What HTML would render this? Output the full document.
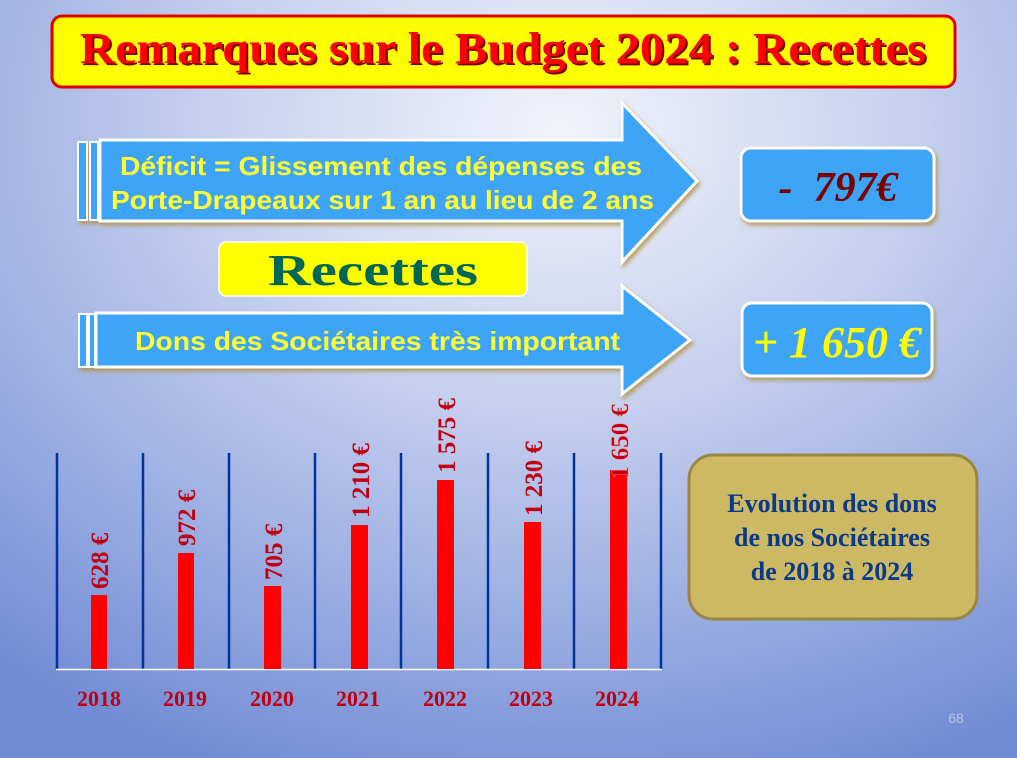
<!DOCTYPE html>
<html><head><meta charset="utf-8"><style>
html,body{margin:0;padding:0}
body{width:1017px;height:758px;overflow:hidden;background:radial-gradient(ellipse 900px 700px at 560px 130px,#f2f4fb 0%,#c5cfee 40%,#93a8e0 75%,#7089d4 100%);}
</style></head><body>
<svg width="1017" height="758" viewBox="0 0 1017 758" xmlns="http://www.w3.org/2000/svg" style="position:absolute;left:0;top:0">
<defs>
<filter id="sh" x="-10%" y="-10%" width="130%" height="140%"><feDropShadow dx="2" dy="3" stdDeviation="2" flood-color="#b09040" flood-opacity="0.8"/></filter>
</defs>
<rect x="52" y="16" width="903" height="71" rx="10" fill="#ffff00" stroke="#e00000" stroke-width="3"/>
<text x="82" y="65" textLength="846" lengthAdjust="spacingAndGlyphs" font-family="Liberation Serif,serif" font-weight="bold" font-size="44" fill="#7a0000">Remarques sur le Budget 2024 : Recettes</text>
<text x="80" y="63" textLength="846" lengthAdjust="spacingAndGlyphs" font-family="Liberation Serif,serif" font-weight="bold" font-size="44" fill="#ff0000">Remarques sur le Budget 2024 : Recettes</text>
<g filter="url(#sh)">
<polygon points="100,140 622,140 622,103 697,181 622,262 622,221 100,221" fill="#3ea4f8" stroke="#fff" stroke-width="3"/>
<rect x="78" y="142" width="9" height="78" fill="#3ea4f8" stroke="#fff" stroke-width="2"/>
<rect x="90" y="142" width="8" height="78" fill="#3ea4f8" stroke="#fff" stroke-width="2"/>
</g>
<text x="120" y="175" textLength="522" lengthAdjust="spacingAndGlyphs" font-family="Liberation Sans,sans-serif" font-weight="bold" font-size="26" fill="#ffff33">Déficit = Glissement des dépenses des</text>
<text x="111" y="209" textLength="543" lengthAdjust="spacingAndGlyphs" font-family="Liberation Sans,sans-serif" font-weight="bold" font-size="26" fill="#ffff33">Porte-Drapeaux sur 1 an au lieu de 2 ans</text>
<g filter="url(#sh)">
<polygon points="96,313 622,313 622,286 690,340 622,394 622,367 96,367" fill="#3ea4f8" stroke="#fff" stroke-width="3"/>
<rect x="79" y="314" width="8" height="53" fill="#3ea4f8" stroke="#fff" stroke-width="2"/>
<rect x="89" y="314" width="6" height="53" fill="#3ea4f8" stroke="#fff" stroke-width="2"/>
</g>
<text x="135" y="350" textLength="485" lengthAdjust="spacingAndGlyphs" font-family="Liberation Sans,sans-serif" font-weight="bold" font-size="26" fill="#ffff33">Dons des Sociétaires très important</text>
<rect x="741" y="148" width="193" height="73" rx="10" fill="#3ea4f8" stroke="#fff" stroke-width="3" filter="url(#sh)"/>
<text x="838" y="201" text-anchor="middle" font-family="Liberation Serif,serif" font-weight="bold" font-style="italic" font-size="42" fill="#7a0000" xml:space="preserve">-  797€</text>
<rect x="742" y="303" width="190" height="73" rx="10" fill="#3ea4f8" stroke="#fff" stroke-width="3" filter="url(#sh)"/>
<text x="837" y="357" text-anchor="middle" font-family="Liberation Serif,serif" font-weight="bold" font-style="italic" font-size="44" fill="#ffff00">+ 1 650 €</text>
<rect x="219" y="242" width="308" height="54" rx="7" fill="#ffff00" stroke="#fff" stroke-width="1.5"/>
<text x="268" y="285" textLength="210" lengthAdjust="spacingAndGlyphs" font-family="Liberation Serif,serif" font-weight="bold" font-size="44" fill="#006655">Recettes</text>
<g stroke="#0033a0" stroke-width="2.5">
<line x1="57" y1="453" x2="57" y2="670"/><line x1="143" y1="453" x2="143" y2="670"/>
<line x1="229" y1="453" x2="229" y2="670"/><line x1="315" y1="453" x2="315" y2="670"/>
<line x1="401" y1="453" x2="401" y2="670"/><line x1="488" y1="453" x2="488" y2="670"/>
<line x1="574" y1="453" x2="574" y2="670"/><line x1="661" y1="453" x2="661" y2="670"/>
</g>
<line x1="56" y1="669.5" x2="662" y2="669.5" stroke="#fff" stroke-width="1.5"/>
<g fill="#ff0000">
<rect x="91" y="595" width="16" height="74"/><rect x="178" y="553" width="16" height="116"/>
<rect x="264" y="586" width="17" height="83"/><rect x="351" y="525" width="17" height="144"/>
<rect x="437" y="480" width="17" height="189"/><rect x="524" y="522" width="17" height="147"/>
<rect x="610" y="470" width="17" height="199"/>
</g>
<g font-family="Liberation Serif,serif" font-weight="bold" font-size="25" fill="#c00010">
<text transform="translate(108,589) rotate(-90)">628 €</text>
<text transform="translate(195,546) rotate(-90)">972 €</text>
<text transform="translate(282,580) rotate(-90)">705 €</text>
<text transform="translate(369,518) rotate(-90)">1 210 €</text>
<text transform="translate(455,473) rotate(-90)">1 575 €</text>
<text transform="translate(542,516) rotate(-90)">1 230 €</text>
<text transform="translate(628,479) rotate(-90)" stroke="#ff9090" stroke-width="0.4">1 650 €</text>
</g>
<g font-family="Liberation Serif,serif" font-weight="bold" font-size="22" fill="#c00010" text-anchor="middle">
<text x="99" y="706">2018</text><text x="185" y="706">2019</text><text x="272" y="706">2020</text>
<text x="358" y="706">2021</text><text x="445" y="706">2022</text><text x="531" y="706">2023</text><text x="617" y="706">2024</text>
</g>
<rect x="689" y="455" width="288" height="164" rx="24" fill="#cdb863" stroke="#9a8640" stroke-width="3"/>
<g font-family="Liberation Serif,serif" font-weight="bold" font-size="26" fill="#0a3a8a" text-anchor="middle">
<text x="832" y="512">Evolution des dons</text>
<text x="832" y="546">de nos Sociétaires</text>
<text x="832" y="580">de 2018 à 2024</text>
</g>
<text x="956" y="723" text-anchor="middle" font-family="Liberation Sans,sans-serif" font-size="14" fill="#b8c4e4">68</text>
</svg>
</body></html>
